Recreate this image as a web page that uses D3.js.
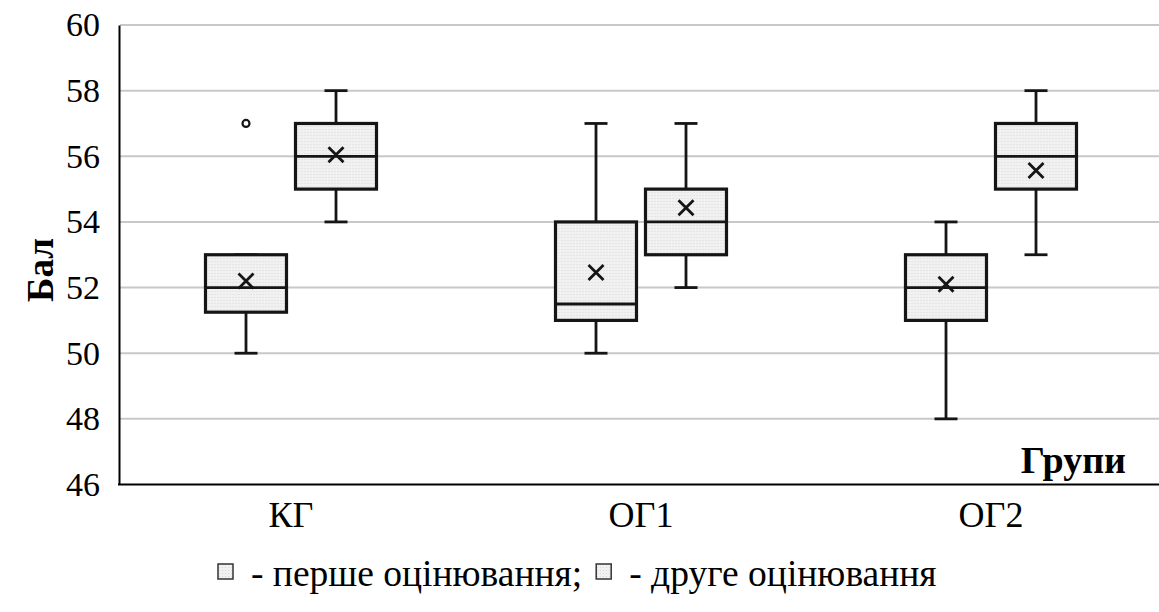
<!DOCTYPE html>
<html><head><meta charset="utf-8">
<script src="https://cdn.jsdelivr.net/npm/d3@7"></script>
<style>body{margin:0;background:#fff}svg{display:block}text{font-family:"Liberation Serif","Times New Roman",serif;fill:#000}</style>
</head><body><svg id="c" width="1159" height="612"></svg>
<script>
const categories = ["КГ", "ОГ1", "ОГ2"];
const series = ["перше оцінювання", "друге оцінювання"];
const yTicks = [46, 48, 50, 52, 54, 56, 58, 60];
// series 1 (перше оцінювання)
const min1 = [50, 50, 48];
const q1_1 = [51.25, 51, 51];
const med1 = [52, 51.5, 52];
const q3_1 = [53, 54, 53];
const max1 = [53, 57, 54];
const mean1 = [52.2, 52.46, 52.1];
// series 2 (друге оцінювання)
const min2 = [54, 52, 53];
const q1_2 = [55, 53, 55];
const med2 = [56, 54, 56];
const q3_2 = [57, 55, 57];
const max2 = [58, 57, 58];
const mean2 = [56.05, 54.43, 55.57];
const outliers = [{cat: "КГ", s: 0, v: 57}];

const boxes = [];
categories.forEach((c, i) => {
  boxes.push({cat: c, s: 0, min: min1[i], q1: q1_1[i], med: med1[i], q3: q3_1[i], max: max1[i], mean: mean1[i]});
  boxes.push({cat: c, s: 1, min: min2[i], q1: q1_2[i], med: med2[i], q3: q3_2[i], max: max2[i], mean: mean2[i]});
});

const svg = d3.select("#c");
const x = d3.scaleBand().domain(categories).range([116, 1166]).padding(0);
const xs = d3.scaleBand().domain([0, 1]).range([89.5, 260.5]).paddingInner(0.1);
const y = d3.scaleLinear().domain([46, 60]).range([484.5, 25]);

const defs = svg.append("defs");
const pat = defs.append("pattern").attr("id", "dots").attr("width", 3).attr("height", 3).attr("patternUnits", "userSpaceOnUse");
pat.append("rect").attr("width", 3).attr("height", 3).attr("fill", "#f1f1f1");
pat.append("rect").attr("width", 1).attr("height", 1).attr("fill", "#d8d8d8");

// gridlines
svg.append("g").selectAll("line").data(yTicks.filter(t => t > 46)).join("line")
  .attr("x1", 120).attr("x2", 1159).attr("y1", d => y(d)).attr("y2", d => y(d))
  .attr("stroke", "#c8c8c8").attr("stroke-width", 2);

// y axis
const ya = svg.append("g").attr("transform", "translate(119,0)")
  .call(d3.axisLeft(y).tickValues(yTicks).tickSize(0).tickPadding(19).tickFormat(d3.format("d")));
ya.select(".domain").attr("stroke", "#000").attr("stroke-width", 2);
ya.selectAll("text").attr("font-size", 34).attr("font-family", "Liberation Serif");

// x axis
const xa = svg.append("g").attr("transform", "translate(0,484.5)")
  .call(d3.axisBottom(x).tickSize(0).tickPadding(17));
xa.select(".domain").remove();
xa.selectAll("text").attr("font-size", 36).attr("font-family", "Liberation Serif");
svg.append("line").attr("x1", 118).attr("x2", 1159).attr("y1", 484.5).attr("y2", 484.5)
  .attr("stroke", "#000").attr("stroke-width", 2);

// boxes
const bw = xs.bandwidth();
const g = svg.append("g").selectAll("g").data(boxes).join("g")
  .attr("transform", d => `translate(${x(d.cat) + xs(d.s)},0)`);
const cx = bw / 2, cap = 23, ink = "#151515";
g.append("line").attr("x1", cx).attr("x2", cx).attr("y1", d => y(d.max)).attr("y2", d => y(d.q3)).attr("stroke", ink).attr("stroke-width", 2.8);
g.append("line").attr("x1", cx).attr("x2", cx).attr("y1", d => y(d.q1)).attr("y2", d => y(d.min)).attr("stroke", ink).attr("stroke-width", 2.8);
g.append("line").attr("x1", cx - cap / 2).attr("x2", cx + cap / 2).attr("y1", d => y(d.max)).attr("y2", d => y(d.max)).attr("stroke", ink).attr("stroke-width", 2.8);
g.append("line").attr("x1", cx - cap / 2).attr("x2", cx + cap / 2).attr("y1", d => y(d.min)).attr("y2", d => y(d.min)).attr("stroke", ink).attr("stroke-width", 2.8);
g.append("rect").attr("x", 0).attr("width", bw).attr("y", d => y(d.q3)).attr("height", d => y(d.q1) - y(d.q3))
  .attr("fill", "url(#dots)").attr("stroke", ink).attr("stroke-width", 3.2);
g.append("line").attr("x1", 0).attr("x2", bw).attr("y1", d => y(d.med)).attr("y2", d => y(d.med)).attr("stroke", ink).attr("stroke-width", 2.8);
const m = 7.5;
g.append("path").attr("d", d => `M${cx - m},${y(d.mean) - m}L${cx + m},${y(d.mean) + m}M${cx + m},${y(d.mean) - m}L${cx - m},${y(d.mean) + m}`)
  .attr("stroke", ink).attr("stroke-width", 2.8).attr("fill", "none");

// outliers
svg.append("g").selectAll("circle").data(outliers).join("circle")
  .attr("cx", d => x(d.cat) + xs(d.s) + bw / 2).attr("cy", d => y(d.v)).attr("r", 3.5)
  .attr("fill", "#fff").attr("stroke", ink).attr("stroke-width", 2.2);

// axis titles
svg.append("text").attr("transform", "translate(53,270) rotate(-90)").attr("text-anchor", "middle")
  .attr("font-size", 37).attr("font-weight", "bold").text("Бал");
svg.append("text").attr("x", 1126).attr("y", 473).attr("text-anchor", "end")
  .attr("font-size", 38).attr("font-weight", "bold").text("Групи");

// legend (flowed left to right)
const leg = svg.append("g");
let lx = 218;
series.forEach((s, i) => {
  leg.append("rect").attr("x", lx).attr("y", 564).attr("width", 15).attr("height", 15)
    .attr("fill", "url(#dots)").attr("stroke", "#333").attr("stroke-width", 1.5);
  const t = leg.append("text").attr("x", lx + 33).attr("y", 586).attr("font-size", 37.5)
    .text("- " + s + (i === 0 ? ";" : ""));
  lx = lx + 33 + t.node().getComputedTextLength() + 14;
});
</script></body></html>
